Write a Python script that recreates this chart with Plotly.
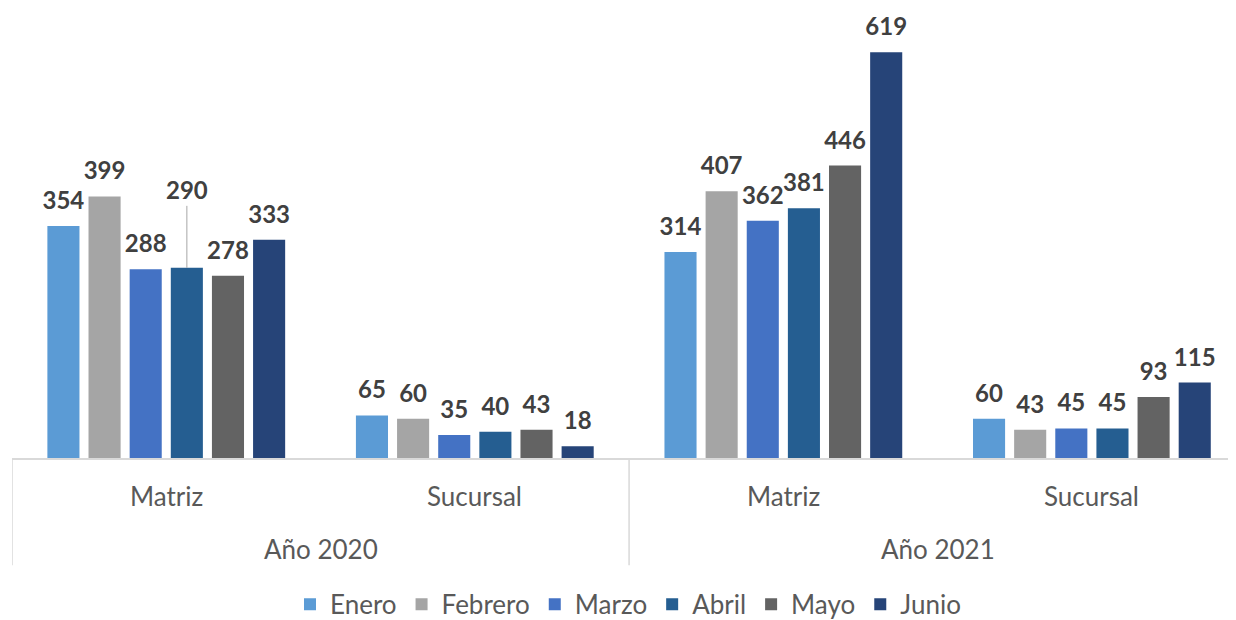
import plotly.graph_objects as go

years = ["Año 2020", "Año 2021"]
places = ["Matriz", "Sucursal"]
categories = ["Año 2020 Matriz", "Año 2020 Sucursal", "Año 2021 Matriz", "Año 2021 Sucursal"]
cat_place = ["Matriz", "Sucursal", "Matriz", "Sucursal"]
months = ["Enero", "Febrero", "Marzo", "Abril", "Mayo", "Junio"]
enero = [354, 65, 314, 60]
febrero = [399, 60, 407, 43]
marzo = [288, 35, 362, 45]
abril = [290, 40, 381, 45]
mayo = [278, 43, 446, 93]
junio = [333, 18, 619, 115]
colors = ["#5B9BD5", "#A5A5A5", "#4472C4", "#255E91", "#636363", "#264478"]

series = [enero, febrero, marzo, abril, mayo, junio]
FONT = "Lato, 'Open Sans', sans-serif"
LINE = "#D9D9D9"
GAP = 0.2

fig = go.Figure()
for name, vals, col in zip(months, series, colors):
    fig.add_trace(go.Bar(
        x=categories, y=vals, name=name, offsetgroup=name,
        marker=dict(color=col, line=dict(width=0)),
    ))
for name, vals in zip(months, series):
    texts = [str(v) for v in vals]
    if name == "Abril":
        texts[0] = ""  # labelled with a leader line below
    fig.add_trace(go.Scatter(
        x=categories, y=vals, name=name, offsetgroup=name, showlegend=False,
        mode="markers+text", text=texts, textposition="top center",
        marker=dict(size=16, opacity=0), hoverinfo="skip",
        textfont=dict(family=FONT, size=24, color="#404040", weight="bold"),
        cliponaxis=False,
    ))

# leader-line label for Abril / Año 2020 Matriz
fig.add_annotation(
    x=categories[0], y=abril[0], xref="x", yref="y", xshift=20.6,
    text="<b>%d</b>" % abril[0], showarrow=True, arrowhead=0, arrowwidth=1,
    arrowcolor="#A6A6A6", ax=0, ay=-78, standoff=0,
    font=dict(family=FONT, size=24, color="#404040"),
)

# category labels (inner level)
for c, p in zip(categories, cat_place):
    fig.add_annotation(x=c, y=-0.0863, xref="x", yref="paper", text=p,
                       showarrow=False, yanchor="middle",
                       font=dict(family=FONT, size=26, color="#595959"))
# outer level
for i, yr in enumerate(years):
    fig.add_annotation(x=2 * i + 0.5, y=-0.2067, xref="x", yref="paper", text=yr,
                       showarrow=False, yanchor="middle",
                       font=dict(family=FONT, size=26, color="#595959"))
# dividers
for xd in [-0.5, 1.5, 3.5]:
    fig.add_shape(type="line", x0=xd, x1=xd, y0=0, y1=-0.245, xref="x", yref="paper",
                  line=dict(color=LINE, width=1.5))

fig.update_layout(
    width=1236, height=620,
    margin=dict(l=4, r=0, t=12, b=163),
    paper_bgcolor="white", plot_bgcolor="white",
    barmode="group", bargap=GAP, bargroupgap=0.22,
    scattermode="group", scattergap=GAP,
    font=dict(family=FONT, color="#595959"),
    showlegend=True,
    legend=dict(orientation="h", x=0.5, xanchor="center", y=-0.334, yanchor="middle",
                font=dict(size=26, color="#595959"), itemwidth=30, traceorder="normal"),
)
fig.update_xaxes(
    type="category", showline=True, linecolor=LINE, linewidth=1.5,
    showgrid=False, ticks="", showticklabels=False,
    range=[-0.5, 3.493],
)
fig.update_yaxes(visible=False, range=[0, 668], showgrid=False)

fig.write_html("out.html")
